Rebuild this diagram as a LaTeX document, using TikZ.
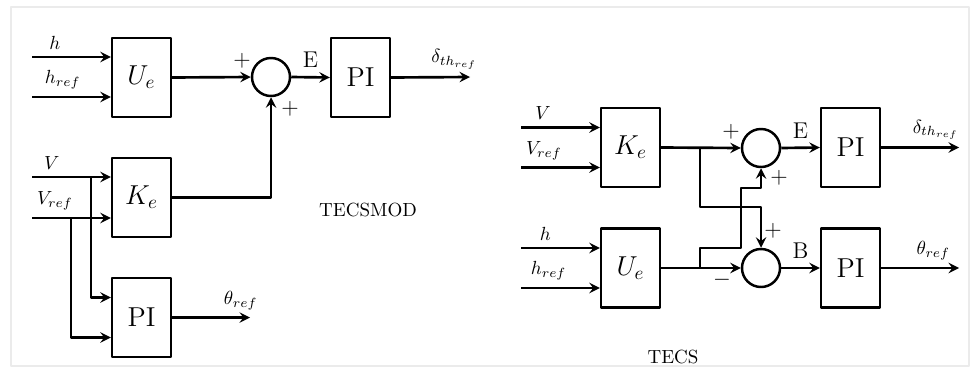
\documentclass[tikz,border=0pt]{standalone}
\usepackage{amsmath,amssymb}
\usetikzlibrary{calc}

\begin{document}
\begin{tikzpicture}[x=0.526pt, y=-0.526pt, >=stealth, line join=round,
	blk/.style={draw, line width=1.3pt, minimum width=31pt, minimum height=41.5pt, font=\Large},
	sumc/.style={draw, circle, line width=1.3pt, minimum size=20pt, inner sep=0pt},
	sig/.style={line width=1.4pt, ->},
	lbl/.style={font=\large}]
	\useasboundingbox (0,0) rectangle (972,369);
	\draw[black!8, line width=1pt] (11,7) rectangle (969,366);
	% TECSMOD
	\node[blk] (UeL) at (141.5,77.5) {$U_e$};
	\node[sumc] (sL) at (271,77) {};
	\node[blk] (PIa) at (360.5,77.5) {PI};
	\node[blk] (KeL) at (141.5,197.5) {$K_e$};
	\node[blk] (PIb) at (141.5,317.5) {PI};
	\coordinate (hL) at (32,57);
	\coordinate (hrL) at (32,97);
	\coordinate (VL) at (32,177);
	\coordinate (VrL) at (32,218);
	\coordinate (jV) at (91,177);
	\coordinate (jVr) at (71,218);
	\coordinate (dL) at (470,77);
	\coordinate (tL) at (250,317.5);
	\draw[sig] (hL) -- (hL -| UeL.west) node[above, pos=0.29] {$h$};
	\draw[sig] (hrL) -- (hrL -| UeL.west) node[above, pos=0.39] {$h_{ref}$};
	\draw[sig] (VL) -- (VL -| KeL.west) node[above, pos=0.25] {$V$};
	\draw[sig] (VrL) -- (VrL -| KeL.west) node[above, pos=0.29] {$V_{ref}$};
	\draw[sig] (jV) |- ($(PIb.west)+(0,-20)$);
	\draw[sig] (jVr) |- ($(PIb.west)+(0,20)$);
	\draw[sig] (UeL.east) -- (sL.west);
	\draw[sig] (KeL.east) -| (sL.south);
	\draw[sig] (sL.east) -- (PIa.west) node[above, lbl, midway, yshift=1pt] {E};
	\draw[sig] (PIa.east) -- (dL) node[above, pos=0.8] {$\delta_{th_{ref}}$};
	\draw[sig] (PIb.east) -- (tL) node[above, pos=0.88] {$\theta_{ref}$};
	\node[lbl] (pL1) at (242,61) {$+$};
	\node[lbl] (pL2) at (290,109) {$+$};
	\node (capL) at (368,210) {TECSMOD};
	% TECS
	\node[blk] (KeR) at (630.5,147.5) {$K_e$};
	\node[sumc] (s1) at (761,148) {};
	\node[blk] (PIc) at (850.5,147.5) {PI};
	\node[blk] (UeR) at (630.5,268) {$U_e$};
	\node[sumc] (s2) at (761,268) {};
	\node[blk] (PId) at (850.5,268) {PI};
	\coordinate (VR) at (521,127.5);
	\coordinate (VrR) at (521,167.5);
	\coordinate (hR) at (521,248);
	\coordinate (hrR) at (521,288);
	\coordinate (jK) at (700,147.5);
	\coordinate (k1) at (700,207);
	\coordinate (jU) at (700,268);
	\coordinate (u1) at (741,248);
	\coordinate (u2) at (741,188);
	\coordinate (dR) at (959,147.5);
	\coordinate (tR) at (959,268);
	\draw[sig] (VR) -- (VR -| KeR.west) node[above, pos=0.28] {$V$};
	\draw[sig] (VrR) -- (VrR -| KeR.west) node[above, pos=0.29] {$V_{ref}$};
	\draw[sig] (hR) -- (hR -| UeR.west) node[above, pos=0.31] {$h$};
	\draw[sig] (hrR) -- (hrR -| UeR.west) node[above, pos=0.35] {$h_{ref}$};
	\draw[sig] (KeR.east) -- (s1.west);
	\draw[sig] (UeR.east) -- (s2.west);
	\draw[sig] (jK) -- (k1) -| (s2.north);
	\draw[sig] (jU) |- (u1) -- (u2) -| (s1.south);
	\draw[sig] (s1.east) -- (PIc.west) node[above, lbl, midway, yshift=1pt] {E};
	\draw[sig] (s2.east) -- (PId.west) node[above, lbl, midway, yshift=1pt] {B};
	\draw[sig] (PIc.east) -- (dR) node[above, pos=0.7] {$\delta_{th_{ref}}$};
	\draw[sig] (PId.east) -- (tR) node[above, pos=0.67] {$\theta_{ref}$};
	\node[lbl] (pR1) at (731,132) {$+$};
	\node[lbl] (pR2) at (779,178) {$+$};
	\node[lbl] (pR3) at (773,231) {$+$};
	\node[lbl] (mR) at (722,280) {$-$};
	\node (capR) at (673,357) {TECS};
\end{tikzpicture}
\end{document}
